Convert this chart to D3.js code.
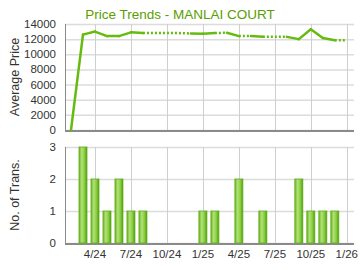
<!DOCTYPE html>
<html>
<head>
<meta charset="utf-8">
<script src="https://cdn.jsdelivr.net/npm/d3@7"></script>
<style>
body{margin:0;background:#fff;}
svg{display:block;font-family:"Liberation Sans",Arial,sans-serif;}
</style>
</head>
<body>
<svg id="chart" width="360" height="270"></svg>
<script>
// months Feb 2024 .. Jan 2026, one entry each
var months=["2/24","3/24","4/24","5/24","6/24","7/24","8/24","9/24","10/24","11/24","12/24",
	"1/25","2/25","3/25","4/25","5/25","6/25","7/25","8/25","9/25","10/25","11/25","12/25","1/26"];
var avgPrice=[0,12600,13000,12400,12400,12900,12800,12800,12800,12800,12750,
	12700,12800,12850,12400,12400,12300,12300,12300,12000,13300,12150,11850,11850];
var transCount=[0,3,2,1,2,1,1,0,0,0,0,
	1,1,0,2,0,1,0,0,2,1,1,1,0];
var tickLabels=["4/24","7/24","10/24","1/25","4/25","7/25","10/25","1/26"];
var priceTicks=[0,2000,4000,6000,8000,10000,12000,14000];
var transTicks=[0,1,2,3];

var svg=d3.select("#chart");
var green="#66bb11";

var x=d3.scaleLinear().domain([-0.5,23.6]).range([65,354]);
var yPrice=d3.scaleLinear().domain([0,14000]).range([130,24]);
var yTrans=d3.scaleLinear().domain([0,3]).range([243,147]);

// gradient for the bars
var grad=svg.append("defs").append("linearGradient").attr("id","barGrad")
	.attr("x1","0%").attr("x2","100%").attr("y1","0%").attr("y2","0%");
grad.append("stop").attr("offset","0%").attr("stop-color","#6cb51f");
grad.append("stop").attr("offset","35%").attr("stop-color","#b2e27a");
grad.append("stop").attr("offset","70%").attr("stop-color","#86cc3c");
grad.append("stop").attr("offset","100%").attr("stop-color","#4f9a0e");

var tickIdx=tickLabels.map(function(t){return months.indexOf(t);});

/* grid of one panel */
function drawGrid(yScale,ticks){
	var g=svg.append("g");
	g.selectAll("line.h").data(ticks).enter().append("line")
		.attr("x1",65).attr("x2",354)
		.attr("y1",function(d){return yScale(d)+0.5;}).attr("y2",function(d){return yScale(d)+0.5;})
		.attr("stroke","#dcdcdc").attr("stroke-width",1.5);
	g.selectAll("line.v").data(tickIdx).enter().append("line")
		.attr("x1",function(d){return Math.round(x(d))+0.5;}).attr("x2",function(d){return Math.round(x(d))+0.5;})
		.attr("y1",yScale.range()[1]).attr("y2",yScale.range()[0])
		.attr("stroke","#cfcfcf").attr("stroke-width",1);
	// axes lines
	g.append("line").attr("x1",65.5).attr("x2",65.5).attr("y1",yScale.range()[1]).attr("y2",yScale.range()[0]+1)
		.attr("stroke","#8a8a8a").attr("stroke-width",1);
	g.append("line").attr("x1",65).attr("x2",354).attr("y1",yScale.range()[0]+1).attr("y2",yScale.range()[0]+1)
		.attr("stroke","#8a8a8a").attr("stroke-width",2);
	g.selectAll("text").data(ticks).enter().append("text")
		.attr("x",56).attr("y",function(d){return yScale(d)+4;})
		.attr("text-anchor","end").attr("font-size",11.5).attr("fill","#333")
		.text(function(d){return d;});
}
drawGrid(yPrice,priceTicks);
drawGrid(yTrans,transTicks);

// title + axis titles
svg.append("text").attr("x",180).attr("y",19).attr("text-anchor","middle")
	.attr("font-size",13.5).attr("fill","#5a9e00").text("Price Trends - MANLAI COURT");
svg.append("text").attr("transform","translate(19,77) rotate(-90)").attr("text-anchor","middle")
	.attr("font-size",12.5).attr("fill","#333").text("Average Price");
svg.append("text").attr("transform","translate(19,195) rotate(-90)").attr("text-anchor","middle")
	.attr("font-size",12.5).attr("fill","#333").text("No. of Trans.");

// x labels under the bottom panel
svg.append("g").selectAll("text").data(tickIdx).enter().append("text")
	.attr("x",function(d){return x(d);}).attr("y",258).attr("text-anchor","middle")
	.attr("font-size",11.5).attr("fill","#333")
	.text(function(d,i){return tickLabels[i];});

// price line, solid when the month has transactions, dotted otherwise
var line=d3.line().x(function(d){return x(d.i);}).y(function(d){return yPrice(d.v);});
for(var i=1;i<months.length;i++){
	var seg=[{i:i-1,v:avgPrice[i-1]},{i:i,v:avgPrice[i]}];
	var solid=transCount[i]>0;
	svg.append("path").attr("d",line(seg)).attr("fill","none")
		.attr("stroke",green).attr("stroke-width",solid?2.5:2.5)
		.attr("stroke-linecap",solid?"round":"butt")
		.attr("stroke-dasharray",solid?null:"2,2");
}

// bars
svg.append("g").selectAll("rect").data(transCount.map(function(v,i){return {i:i,v:v};}).filter(function(d){return d.v>0;}))
	.enter().append("rect")
	.attr("x",function(d){return x(d.i)-4;}).attr("width",8)
	.attr("y",function(d){return yTrans(d.v);})
	.attr("height",function(d){return yTrans(0)-yTrans(d.v);})
	.attr("fill","url(#barGrad)").attr("stroke","#5fae1a").attr("stroke-width",0.8);
</script>
</body>
</html>
